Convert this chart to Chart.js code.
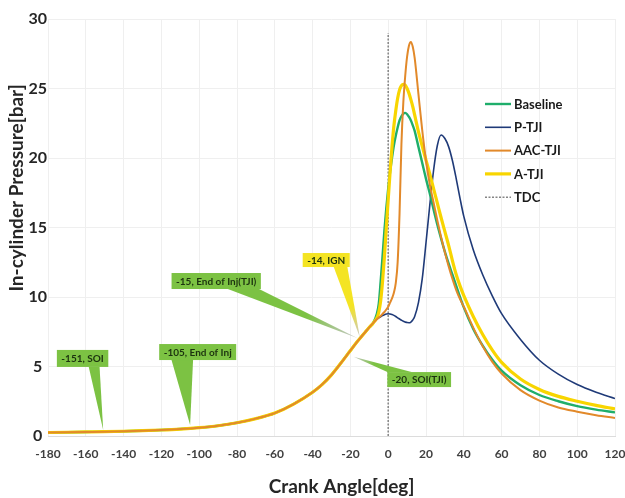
<!DOCTYPE html>
<html><head><meta charset="utf-8">
<script src="https://cdn.jsdelivr.net/npm/chart.js@4.4.1/dist/chart.umd.min.js"></script>
<style>html,body{margin:0;padding:0;background:#fff;}#wrap{width:625px;height:498px;}</style>
</head><body><div id="wrap"><canvas id="c" width="625" height="498" style="width:625px;height:498px"></canvas></div>
<script>
// Crank angle [deg]
const angles = [-180,-170,-160,-150,-140,-130,-120,-110,-100,-90,-80,-70,-60,-50,-40,-35,-30,-25,-20,-16,-12,-10,-8,
  -6,-5,-4,-3,-2,-1,0,1,2,3,4,5,6,7,8,9,10,11,12,13,14,
  16,18,20,22,24,26,28,30,32,34,36,38,40,
  45,50,55,60,70,80,90,100,110,120];
// shared compression part (-180 .. -8)
const compression = [0.25,0.27,0.29,0.31,0.34,0.38,0.43,0.5,0.6,0.74,0.95,1.25,1.65,2.3,3.15,3.7,4.4,5.25,6.15,6.85,7.5,7.82,8.12];
// from -6 deg onwards
const baselineCombustion = [8.8,9.5,11.1,12.9,14.8,16.4,17.8,19.0,20.0,20.9,21.6,22.2,22.7,23.0,23.2,23.25,23.15,22.95,22.7,22.35,21.95,
  20.8,19.65,18.5,17.45,16.3,15.2,14.2,13.25,12.4,11.6,10.8,10.0,9.25,
  7.7,6.5,5.5,4.7,3.65,2.95,2.5,2.15,1.9,1.7];
const pTjiCombustion = [8.4,8.5,8.58,8.66,8.72,8.77,8.8,8.78,8.74,8.68,8.6,8.5,8.42,8.33,8.25,8.2,8.16,8.15,8.2,8.35,8.6,
  9.6,11.3,13.9,16.6,19.1,20.9,21.65,21.4,20.8,19.8,18.5,17.1,15.8,
  13.4,11.6,10.1,8.8,6.95,5.45,4.45,3.7,3.15,2.7];
const aacTjiCombustion = [8.4,8.52,8.64,8.78,8.92,9.1,9.3,9.6,9.9,10.3,11.0,12.5,16.0,21.0,24.0,25.9,27.3,28.1,28.35,28.0,27.2,
  24.6,22.0,19.8,18.1,16.8,15.5,14.3,13.2,12.2,11.3,10.5,9.85,9.3,
  7.8,6.45,5.35,4.5,3.3,2.55,2.05,1.75,1.5,1.3];
const aTjiCombustion = [8.5,8.9,9.7,11.1,12.9,15.0,17.0,19.0,20.8,22.3,23.4,24.3,24.9,25.2,25.3,25.25,25.0,24.65,24.2,23.7,23.1,
  21.9,20.85,19.85,18.85,17.8,16.75,15.7,14.7,13.7,12.6,11.6,10.8,10.1,
  8.6,7.3,6.2,5.3,4.1,3.35,2.85,2.5,2.2,1.95];
const tdcAngles = [0,0];
const tdcPressure = [0,29];
const seriesNames = ['Baseline','P-TJI','AAC-TJI','A-TJI','TDC'];
const xTicks = {min:-180,max:120,step:20};
const yTicks = {min:0,max:30,step:5};
const xTitle = 'Crank Angle[deg]';
const yTitle = 'In-cylinder Pressure[bar]';
// callouts: text, target angle, target pressure
const calloutText = ['-151, SOI','-105, End of Inj','-15, End of Inj(TJI)','-14, IGN','-20, SOI(TJI)'];
const calloutAngle = [-150.8,-104.8,-16.4,-15,-18.3];
const calloutPressure = [0.43,0.79,7.05,7.1,5.7];
// box placement (in axis units) and style
const calloutLayout = [
  {bx:-161.7,by:5.58,h:17,edge:'bottom',base:[0.62,0.83],fill:'#7cc243',fade:false},
  {bx:-100.8,by:6.04,h:16,edge:'bottom',base:[0.16,0.44],fill:'#7cc243',fade:false},
  {bx:-91.0,by:11.15,h:16,edge:'bottom',base:[0.63,0.98],fill:'#7cc243',fade:true},
  {bx:-32.8,by:12.66,h:14,edge:'bottom',base:[0.66,0.95],fill:'#f4e423',fade:true},
  {bx:16.4,by:4.06,h:15,edge:'top',base:[0.0,0.38],fill:'#7cc243',fade:true}
];

const pts = (xs, ys) => xs.map((a,i)=>({x:a,y:ys[i]}));
const full = arr => compression.concat(arr);
const FONT = 'Lato, "Open Sans", sans-serif';

const datasets = [
  {label:seriesNames[0],data:pts(angles,full(baselineCombustion)),borderColor:'#1fae6b',borderWidth:2.4,order:2},
  {label:seriesNames[1],data:pts(angles,full(pTjiCombustion)),borderColor:'#1f3a78',borderWidth:1.6,order:3},
  {label:seriesNames[2],data:pts(angles,full(aacTjiCombustion)),borderColor:'#e2892a',borderWidth:2.0,order:0},
  {label:seriesNames[3],data:pts(angles,full(aTjiCombustion)),borderColor:'#f8d500',borderWidth:3.2,order:1},
  {label:seriesNames[4],data:pts(tdcAngles,tdcPressure),borderColor:'#858585',borderWidth:1.5,borderDash:[2,1.5],order:5,tension:0}
];
datasets.forEach(d=>{d.pointRadius=0;d.fill=false;if(d.order!==5)d.cubicInterpolationMode='monotone';});

const calloutPlugin = {
  id:'callouts',
  afterDatasetsDraw(chart){
    const {ctx,scales:{x,y}} = chart;
    ctx.save();
    ctx.font = 'bold 10px '+FONT;
    calloutText.forEach((t,i)=>{
      const L = calloutLayout[i];
      const cx = x.getPixelForValue(L.bx), cy = y.getPixelForValue(L.by);
      const w = ctx.measureText(t).width + 9, h = L.h;
      const left = cx - w/2, top = cy - h/2;
      const tx = x.getPixelForValue(calloutAngle[i]), ty = y.getPixelForValue(calloutPressure[i]);
      const ey = L.edge==='top' ? top : top+h;
      const b1 = left + w*L.base[0], b2 = left + w*L.base[1];
      let fs = L.fill;
      if (L.fade){
        const g = ctx.createLinearGradient((b1+b2)/2, ey, tx, ty);
        g.addColorStop(0,L.fill); g.addColorStop(0.55,L.fill); g.addColorStop(1,'#c8c8c8');
        fs = g;
      }
      ctx.fillStyle = fs;
      ctx.beginPath(); ctx.moveTo(b1,ey); ctx.lineTo(b2,ey); ctx.lineTo(tx,ty); ctx.closePath(); ctx.fill();
      ctx.fillStyle = L.fill; ctx.fillRect(left,top,w,h);
      ctx.fillStyle = '#1c330f'; ctx.textAlign='center'; ctx.textBaseline='middle';
      ctx.fillText(t,cx,cy+0.5);
    });
    ctx.restore();
  }
};

const legendPlugin = {
  id:'insideLegend',
  afterDraw(chart){
    const {ctx,chartArea} = chart;
    ctx.save();
    ctx.font = 'bold 13px '+FONT;
    ctx.textBaseline='middle'; ctx.textAlign='left';
    const x0 = chartArea.left + 437, y0 = chartArea.top + 85;
    chart.data.datasets.forEach((d,i)=>{
      const yy = y0 + i*23.3;
      ctx.strokeStyle = d.borderColor;
      ctx.lineWidth = d.borderWidth;
      ctx.setLineDash(d.borderDash||[]);
      ctx.beginPath(); ctx.moveTo(x0,yy); ctx.lineTo(x0+26,yy); ctx.stroke();
      ctx.setLineDash([]);
      ctx.fillStyle='#1a1a1a';
      ctx.fillText(d.label,x0+29,yy+0.5);
    });
    ctx.restore();
  }
};

const axisTitlePlugin = {
  id:'axisTitles',
  afterDraw(chart){
    const {ctx,chartArea} = chart;
    ctx.save();
    ctx.font = 'bold 19px '+FONT;
    ctx.fillStyle = '#262626';
    ctx.textAlign='center'; ctx.textBaseline='middle';
    ctx.fillText(xTitle, (chartArea.left+chartArea.right)/2 + 10, chartArea.bottom + 51);
    ctx.translate(17, chartArea.top + 169);
    ctx.rotate(-Math.PI/2);
    ctx.fillText(yTitle, 0, 0);
    ctx.restore();
  }
};

new Chart(document.getElementById('c'),{
  type:'line',
  data:{datasets},
  options:{
    responsive:false,animation:false,devicePixelRatio:1,
    layout:{padding:{top:19,right:10,left:0,bottom:0}},
    plugins:{legend:{display:false},tooltip:{enabled:false}},
    scales:{
      x:{type:'linear',min:xTicks.min,max:xTicks.max,
        ticks:{stepSize:xTicks.step,color:'#404040',font:{family:FONT,size:12,weight:'bold'},padding:11,maxRotation:0},
        grid:{color:'#efefef',drawTicks:false},border:{color:'#dcdcdc'},
        afterFit:s=>{s.height=62;s.paddingLeft=0;s.paddingRight=0;}},
      y:{min:yTicks.min,max:yTicks.max,
        ticks:{stepSize:yTicks.step,color:'#262626',font:{family:FONT,size:16,weight:'bold'},padding:1,crossAlign:'center'},
        grid:{color:'#efefef',drawTicks:false},border:{display:false},
        afterFit:s=>{s.width=48;s.paddingTop=0;s.paddingBottom=0;}}
    }
  },
  plugins:[calloutPlugin,legendPlugin,axisTitlePlugin]
});
</script></body></html>
